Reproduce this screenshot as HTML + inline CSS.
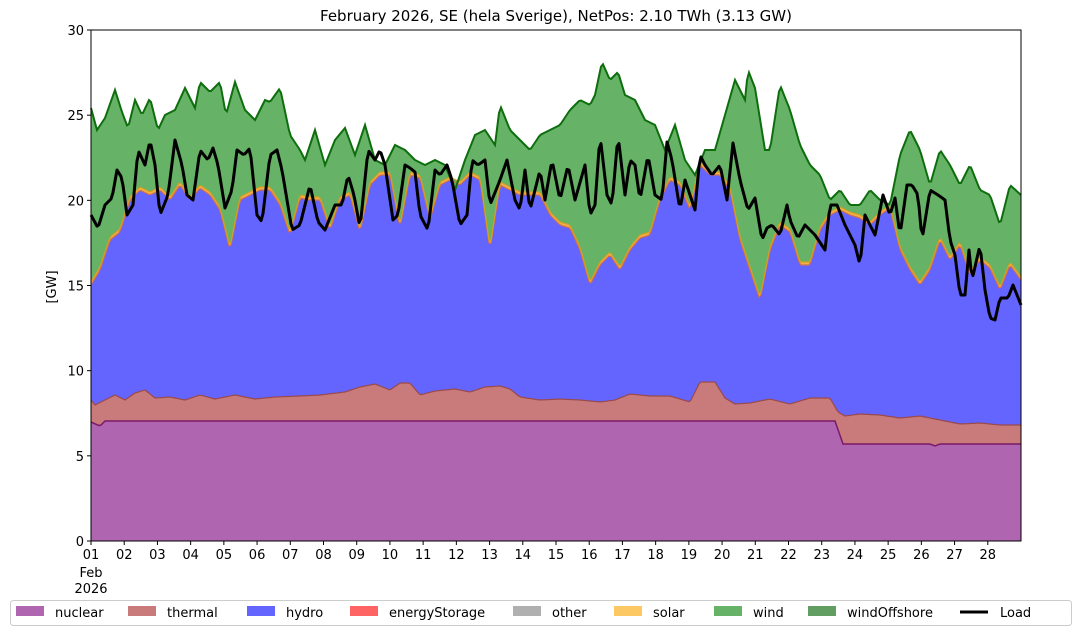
<!DOCTYPE html><html><head><meta charset="utf-8"><style>
body{margin:0;background:#fff;font-family:"DejaVu Sans","Liberation Sans",sans-serif}
svg{display:block}
text{font-family:"DejaVu Sans","Liberation Sans",sans-serif;font-size:13px;fill:#000}
</style></head><body>
<svg id="s" width="1081" height="635" xmlns="http://www.w3.org/2000/svg"></svg>
<script>
const S=document.getElementById('s');let h='';
const X0=91,X1=1021,Y0=541;
function interp(pts,x){for(let i=0;i<pts.length-1;i++){if(x>=pts[i][0]&&x<=pts[i+1][0]){const t=(x-pts[i][0])/(pts[i+1][0]-pts[i][0]||1);return pts[i][1]+t*(pts[i+1][1]-pts[i][1]);}}return pts[pts.length-1][1];}
function P(a){const r=[];for(let i=0;i<a.length;i+=2)r.push([a[i],a[i+1]]);return r;}
const nuc=P([91,422,100,426,105,421,835,421,843,444,930,444,935,446,940,444,1021,444]);
const th=P([91,400,95,405,105,400,115,395,125,400,135,393,145,390,155,398,170,397,185,400,200,395,215,399,235,395,255,399,275,397,300,396,320,395,345,392,360,387,375,384,390,390,400,383,410,383,420,395,435,391,455,389,470,392,485,387,500,386,510,389,520,397,540,400,560,399,580,400,600,402,615,400,630,394,650,396,670,396,690,402,700,382,715,382,725,398,735,404,750,403,770,399,790,404,810,398,830,398,838,412,845,416,860,414,880,415,900,418,920,416,940,420,960,424,980,423,1000,425,1021,425]);
const hy=P([91,285,100,270,110,240,120,232,130,200,140,190,150,195,160,190,170,200,180,185,190,200,200,188,210,195,220,210,230,250,240,200,250,195,260,190,270,190,280,205,290,235,300,198,310,200,320,200,330,230,340,200,350,195,360,232,370,185,380,175,390,175,400,228,410,175,420,178,430,220,440,185,450,180,460,185,470,175,480,180,490,250,500,185,510,190,520,195,530,195,540,195,550,215,560,225,570,228,580,250,590,285,600,265,610,255,620,270,630,250,640,238,650,235,660,200,670,180,680,185,690,210,700,165,710,175,720,175,730,190,740,240,750,270,760,300,770,250,780,225,790,232,800,265,810,265,820,230,830,215,840,210,850,215,860,218,870,225,880,215,890,208,900,250,910,270,920,285,930,270,940,240,950,260,960,245,970,275,980,260,990,268,1000,290,1010,265,1021,280]);
const wi=P([91,108,97,130,105,118,115,90,122,112,128,128,135,100,142,115,150,98,158,130,165,115,175,110,185,88,195,108,200,82,210,92,220,82,226,115,235,82,245,110,255,120,265,100,270,102,280,88,290,135,300,150,305,160,315,130,325,165,335,140,345,128,355,155,365,125,375,160,385,165,395,145,405,150,415,160,425,165,435,160,445,165,455,190,465,160,475,135,485,130,495,145,500,105,510,130,520,140,530,150,540,135,550,130,560,125,570,110,580,100,590,105,595,95,602,62,610,80,618,72,625,95,635,100,645,120,655,125,665,150,675,125,685,160,695,175,705,150,715,150,725,115,735,80,745,100,748,70,755,88,765,150,770,150,780,85,790,110,800,145,810,165,820,175,830,200,840,190,850,205,860,205,870,190,880,200,890,205,900,155,910,130,920,150,930,185,940,150,950,165,960,185,970,165,980,190,990,195,1000,225,1010,185,1021,195]);
const ld=P([91,215,98,228,105,205,112,198,117,170,122,178,127,215,133,205,138,150,145,165,150,140,155,165,160,215,168,195,175,140,182,165,187,195,193,200,200,150,208,160,213,148,218,165,225,208,232,190,237,150,244,155,250,148,257,215,262,222,270,155,277,150,282,170,292,230,300,225,310,185,318,222,325,230,335,205,342,205,348,175,354,195,360,228,368,150,375,160,380,150,385,165,393,220,398,215,405,165,410,168,415,172,420,215,428,230,435,170,440,175,447,165,452,180,460,225,467,215,472,160,478,165,485,160,490,205,500,180,507,160,515,200,520,210,525,170,530,210,540,170,545,200,552,160,560,200,568,165,575,200,585,165,590,215,595,205,600,135,607,195,612,205,618,135,625,195,630,160,635,165,640,200,648,155,655,195,662,200,667,142,672,160,680,210,685,180,690,195,695,210,700,155,705,165,712,175,720,165,727,200,733,143,740,180,748,210,755,198,762,240,767,228,772,225,780,235,787,205,790,220,798,238,805,225,815,235,825,250,830,205,837,205,845,225,855,245,860,265,865,215,870,225,875,235,883,195,890,215,895,198,900,235,907,185,912,185,918,195,922,240,930,190,938,195,945,200,950,240,955,255,960,295,965,295,969,250,972,280,980,245,985,290,990,318,995,320,1000,298,1008,298,1013,285,1021,305]);
const xs=[];for(let x=X0;x<=X1;x+=2)xs.push(x);if(xs[xs.length-1]!=X1)xs.push(X1);
function line(f){return xs.map((x,i)=>(i?'L':'M')+x+','+f(x).toFixed(1)).join('');}
function band(top,bot){let d=xs.map((x,i)=>(i?'L':'M')+x+','+top(x).toFixed(1)).join('');for(let i=xs.length-1;i>=0;i--)d+='L'+xs[i]+','+bot(xs[i]).toFixed(1);return d+'Z';}
const fN=x=>interp(nuc,x),fT=x=>interp(th,x),fH=x=>interp(hy,x),fS=x=>interp(hy,x)-3,fW=x=>interp(wi,x),fL=x=>interp(ld,x);
h+=`<rect x="${X0}" y="30" width="${X1-X0}" height="511" fill="#fff"/>`;
h+=`<path d="${band(fN,()=>Y0)}" fill="#b065b0"/>`;
h+=`<path d="${band(fT,fN)}" fill="#c97a7a"/>`;
h+=`<path d="${band(fH,fT)}" fill="#6464ff"/>`;
h+=`<path d="${band(fS,fH)}" fill="#f2b04a"/>`;
h+=`<path d="${band(fW,fS)}" fill="#66b266"/>`;
h+=`<path d="${line(fN)}" fill="none" stroke="#7a1a6a" stroke-width="1.5"/>`;
h+=`<path d="${line(fT)}" fill="none" stroke="#9a4a4a" stroke-width="1.2"/>`;
h+=`<path d="${line(fH)}" fill="none" stroke="#d0704a" stroke-width="1.2"/>`;
h+=`<path d="${line(fS)}" fill="none" stroke="#d4a020" stroke-width="1.2"/>`;
h+=`<path d="${line(fW)}" fill="none" stroke="#0e6e0e" stroke-width="2"/>`;
h+=`<path d="${line(fL)}" fill="none" stroke="#000" stroke-width="3" stroke-linejoin="round"/>`;
h+=`<rect x="${X0}" y="30" width="${X1-X0}" height="511" fill="none" stroke="#000" stroke-width="1"/>`;
for(let v=0;v<=30;v+=5){const y=Y0-v*511/30;h+=`<line x1="${X0-4}" x2="${X0}" y1="${y}" y2="${y}" stroke="#000"/><text x="${X0-7}" y="${y+5}" text-anchor="end">${v}</text>`;}
for(let d=1;d<=28;d++){const x=X0+(d-1)*(X1-X0)/28;h+=`<line x1="${x}" x2="${x}" y1="${Y0}" y2="${Y0+4}" stroke="#000"/><text x="${x}" y="${Y0+18}" text-anchor="middle">${String(d).padStart(2,'0')}</text>`;}
h+=`<text x="91" y="577" text-anchor="middle">Feb</text><text x="91" y="593" text-anchor="middle">2026</text>`;
h+=`<text x="56" y="287" text-anchor="middle" transform="rotate(-90 56 287)">[GW]</text>`;
h+=`<text x="556" y="21" text-anchor="middle" style="font-size:15px">February 2026, SE (hela Sverige), NetPos: 2.10 TWh (3.13 GW)</text>`;
h+=`<rect x="10.5" y="600.5" width="1061" height="25" rx="3" fill="#fff" stroke="#ccc"/>`;
const lg=[["nuclear","#b065b0",16],["thermal","#c97a7a",128],["hydro","#6464ff",247],["energyStorage","#ff6464",350],["other","#b0b0b0",513],["solar","#fcc864",614],["wind","#66b266",714],["windOffshore","#629e62",808]];
lg.forEach(([n,c,x])=>{h+=`<rect x="${x}" y="606" width="28" height="10" fill="${c}"/><text x="${x+39}" y="617">${n}</text>`;});
h+=`<line x1="960" x2="988" y1="612" y2="612" stroke="#000" stroke-width="3"/><text x="1000" y="617">Load</text>`;
S.innerHTML=h;
</script>
</body></html>
